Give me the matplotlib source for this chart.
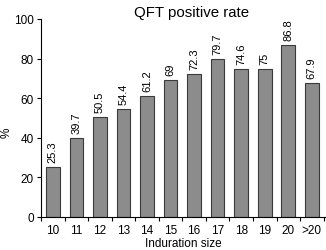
import numpy as np
import matplotlib.pyplot as plt

# induration size categories and QFT positive rate (%)
sizes = ['10', '11', '12', '13', '14', '15', '16', '17', '18', '19', '20', '>20']
rates = [25.3, 39.7, 50.5, 54.4, 61.2, 69, 72.3, 79.7, 74.6, 75, 86.8, 67.9]
labels = ['25.3', '39.7', '50.5', '54.4', '61.2', '69', '72.3', '79.7', '74.6', '75', '86.8', '67.9']

plt.rcParams['font.family'] = ['Liberation Sans', 'DejaVu Sans']
fig = plt.figure(figsize=(3.26, 2.51), dpi=100)
ax = fig.add_axes([41/326, 33/251, 285/326, 198/251])

x = np.arange(len(sizes)) + 0.5
ax.bar(x, rates, width=0.58, color='#8c8c8c', edgecolor='#3a3a3a', linewidth=0.8)
for a, b, t in zip(x, rates, labels):
    ax.text(a, b + 2.5, t, rotation=90, ha='center', va='bottom', fontsize=8)

ax.set_xlim(0, 12.1)
ax.set_ylim(0, 100)
ax.set_yticks([0, 20, 40, 60, 80, 100])
ax.set_xticks(np.arange(0, 13))
ax.set_xticklabels([])
ax.set_xticks(x, minor=True)
ax.set_xticklabels(sizes, minor=True)
ax.tick_params(axis='x', which='minor', length=0, pad=5, labelsize=8.5)
ax.tick_params(axis='x', which='major', length=3, width=0.8, direction='out')
ax.tick_params(axis='y', length=3, width=0.8, labelsize=8.5, pad=2)
ax.spines['top'].set_visible(False)
ax.spines['right'].set_visible(False)
ax.spines['left'].set_bounds(0, 100)
fig.text(7/326, 118/251, '%', rotation=90, ha='center', va='center', fontsize=8.5)
ax.set_xlabel('Induration size', fontsize=8.5, labelpad=1)
ax.set_title('QFT positive rate', fontsize=10.8, pad=2, x=0.53)

plt.savefig('out.png', dpi=100)
